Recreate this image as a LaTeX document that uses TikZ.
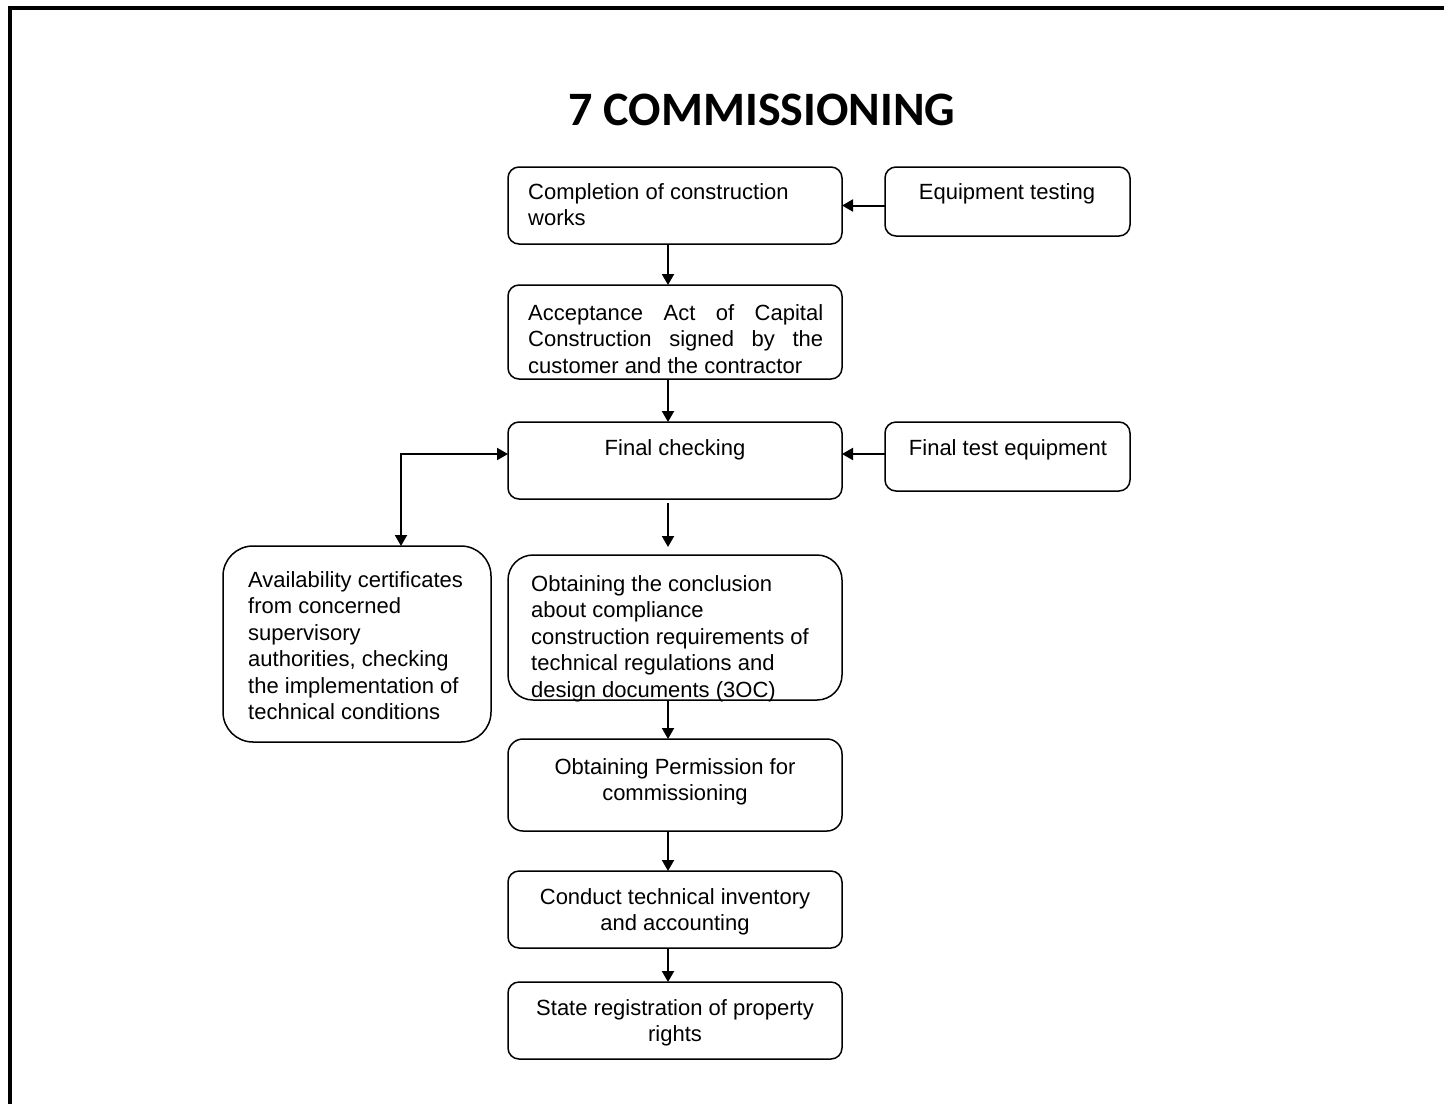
\documentclass[tikz,border=0pt]{standalone}
\usepackage{fontspec}
\setmainfont{Liberation Sans}
\newfontfamily\titlefont{Carlito}
\usetikzlibrary{arrows.meta}
\begin{document}
\begin{tikzpicture}[x=1pt,y=-1pt,
  box/.style={draw, line width=1.5pt, rounded corners=#1, inner sep=0pt, outer sep=0pt},
  box/.default=11pt,
  txt/.style={inner sep=0pt, font=\fontsize{22}{26.5}\selectfont},
  tip/.tip={Triangle[length=11pt,width=12pt]},
  link/.style={line width=2pt, -tip},
  twoway/.style={line width=2pt, tip-tip},
]
\useasboundingbox (0,0) rectangle (1444,1104);

% page frame (top and left edges)
\draw[line width=4pt] (10,1104) -- (10,8) -- (1444,8);

% title
\node[font=\titlefont\bfseries\fontsize{48}{52}\selectfont, anchor=base, inner sep=0pt] (title) at (762,125) {7 COMMISSIONING};

% boxes
\node[box, minimum width=334pt, minimum height=77pt] (b1) at (675,205.5) {};
\node[box, minimum width=245pt, minimum height=69pt] (b2) at (1007.5,201.5) {};
\node[box, minimum width=334pt, minimum height=94pt] (b3) at (675,332) {};
\node[box, minimum width=334pt, minimum height=77pt] (b4) at (675,460.5) {};
\node[box, minimum width=245pt, minimum height=69pt] (b5) at (1007.5,456.5) {};
\node[box=30pt, minimum width=268pt, minimum height=196pt] (b6) at (357,644) {};
\node[box=25pt, minimum width=334pt, minimum height=145pt] (b7) at (675,627.5) {};
\node[box=15pt, minimum width=334pt, minimum height=92pt] (b8) at (675,785) {};
\node[box, minimum width=334pt, minimum height=77pt] (b9) at (675,909.5) {};
\node[box, minimum width=334pt, minimum height=77pt] (b10) at (675,1020.5) {};

% box texts
\node[txt, anchor=north west, align=left] (t1) at (528,180.5) {\strut Completion of construction\\works};
\node[txt, anchor=north] (t2) at (1007,180.5) {\strut Equipment testing};
\node[txt, anchor=north west, align=left] (t3) at (528,301.5)
  {\strut\makebox[295pt][s]{Acceptance Act of Capital}\\\makebox[295pt][s]{Construction signed by the}\\customer and the contractor};
\node[txt, anchor=north] (t4) at (675,436.5) {\strut Final checking};
\node[txt, anchor=north] (t5) at (1008,436.5) {\strut Final test equipment};
\node[txt, anchor=north west, align=left] (t6) at (248,568.5)
  {\strut Availability certificates\\from concerned\\supervisory\\authorities, checking\\the implementation of\\technical conditions};
\node[txt, anchor=north west, align=left] (t7) at (531,572.5)
  {\strut Obtaining the conclusion\\about compliance\\construction requirements of\\technical regulations and\\design documents (3OC)};
\node[txt, anchor=north, align=center] (t8) at (675,755.5) {\strut Obtaining Permission for\\commissioning};
\node[txt, anchor=north, align=center] (t9) at (675,885.5) {\strut Conduct technical inventory\\and accounting};
\node[txt, anchor=north, align=center] (t10) at (675,996.5) {\strut State registration of property\\rights};

% connectors
\coordinate (spine) at (668,0);
\coordinate (elbow) at (401,454);
\draw[link] (b2.west |- b1.east) -- (b1.east);
\draw[link] (b1.south -| spine) -- (b3.north -| spine);
\draw[link] (b3.south -| spine) -- (b4.north -| spine);
\draw[link] (b5.west |- elbow) -- (b4.east |- elbow);
\draw[link, shorten <=4pt, shorten >=8pt] (b4.south -| spine) -- (b7.north -| spine);
\draw[twoway] (elbow |- b6.north) -- (elbow) -- (elbow -| b4.west);
\draw[link] (b7.south -| spine) -- (b8.north -| spine);
\draw[link] (b8.south -| spine) -- (b9.north -| spine);
\draw[link] (b9.south -| spine) -- (b10.north -| spine);
\end{tikzpicture}
\end{document}
